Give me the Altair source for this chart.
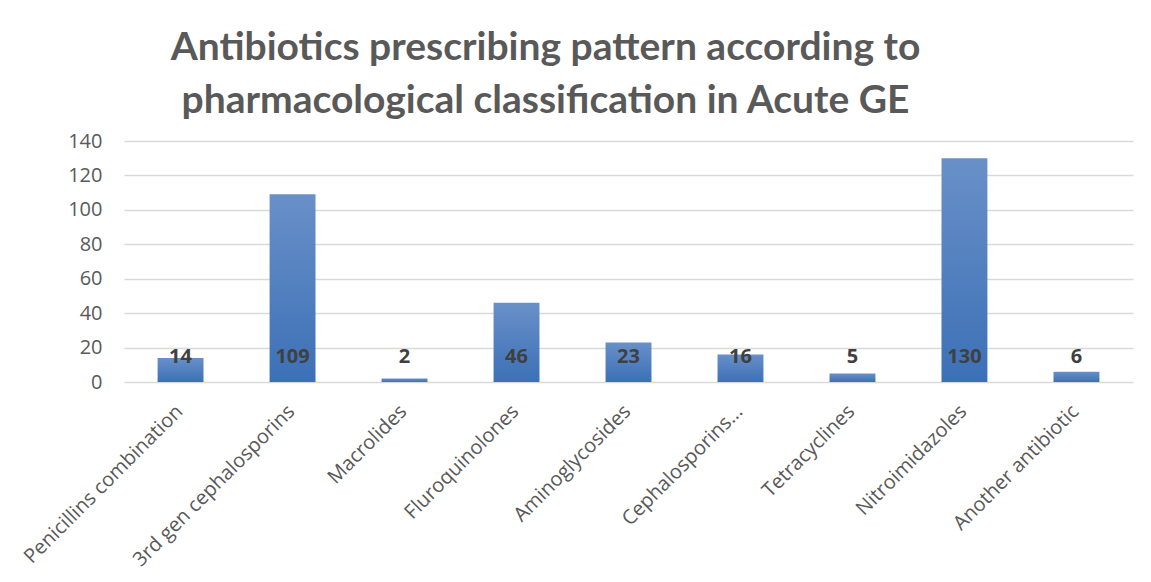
import altair as alt
import pandas as pd

categories = ["Penicillins combination", "3rd gen cephalosporins", "Macrolides",
              "Fluroquinolones", "Aminoglycosides", "Cephalosporins...",
              "Tetracyclines", "Nitroimidazoles", "Another antibiotic"]
values = [14, 109, 2, 46, 23, 16, 5, 130, 6]
y_ticks = [0, 20, 40, 60, 80, 100, 120, 140]

df = pd.DataFrame({"category": categories, "value": values})

x_axis = alt.Axis(labelAngle=-45, labelAlign="right", labelBaseline="top",
                  labelFont="Open Sans", labelFontSize=20, labelColor="#595959",
                  ticks=False, domain=False, labelPadding=19, labelLimit=400,
                  labelOffset=-8, labelOverlap=False)
x_scale = alt.Scale(paddingInner=0.59, paddingOuter=0.3)
y_axis = alt.Axis(values=y_ticks, labelFont="Open Sans",
                  labelFontSize=20, labelColor="#595959", ticks=False, domain=False,
                  gridColor="#D9D9D9", gridWidth=1.5, labelPadding=22,
                  labelOverlap=False)
y_scale = alt.Scale(domain=[0, 140])

bars = alt.Chart(df).mark_bar(
    color=alt.Gradient(gradient="linear", x1=0, x2=0, y1=0, y2=1,
                       stops=[alt.GradientStop(color="#6990C8", offset=0),
                              alt.GradientStop(color="#3C70B6", offset=1)])
).encode(x=alt.X("category:N", sort=categories, title=None, scale=x_scale, axis=x_axis),
         y=alt.Y("value:Q", title=None, scale=y_scale, axis=y_axis))

labels = alt.Chart(df).transform_calculate(base="0").mark_text(
    font="Open Sans", fontWeight="bold", fontSize=20, color="#404040", dy=-25
).encode(x=alt.X("category:N", sort=categories, title=None, scale=x_scale, axis=x_axis),
         y=alt.Y("base:Q", title=None, scale=y_scale, axis=y_axis),
         text="value:Q")

chart = alt.layer(bars, labels).properties(
    width=1009, height=241,
    autosize=alt.AutoSizeParams(type="none"),
    padding={"left": 116, "top": 133, "right": 10, "bottom": 190},
    title=alt.TitleParams(
        text=["Antibiotics prescribing pattern according to",
              "pharmacological classification in Acute GE"],
        font="Lato", fontSize=39, fontWeight="bold", color="#595959",
        anchor="middle", dx=-83, offset=10, lineHeight=53)
).configure(background="white").configure_view(strokeWidth=0, stroke="transparent")

chart.save("out.html", embed_options={"renderer": "svg", "actions": False})
